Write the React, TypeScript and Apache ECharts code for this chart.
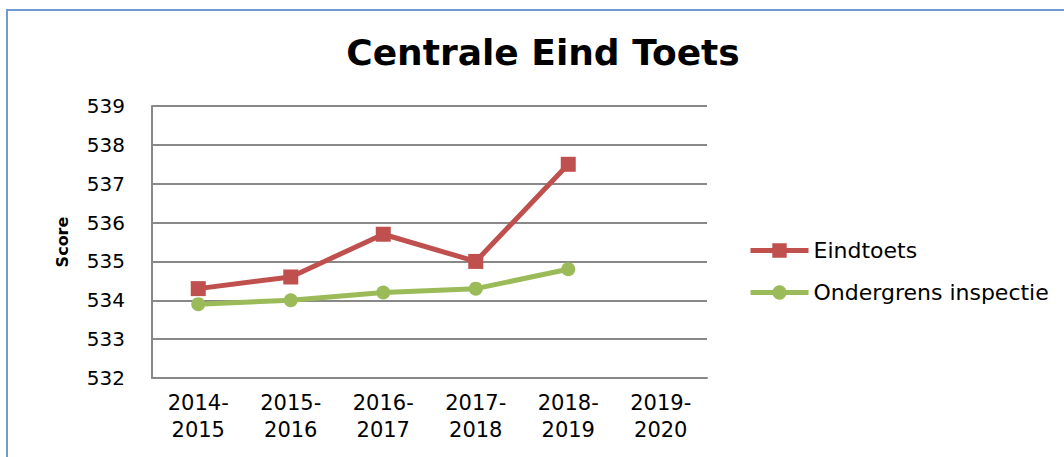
import React, { useEffect, useRef } from "react";
import * as echarts from "echarts";

const categories = ["2014-\n2015", "2015-\n2016", "2016-\n2017", "2017-\n2018", "2018-\n2019", "2019-\n2020"];
const eindtoets = [534.3, 534.6, 535.7, 535.0, 537.5, null];
const ondergrens = [533.9, 534.0, 534.2, 534.3, 534.8, null];
const yMin = 532;
const yMax = 539;

export default function App() {
  const ref = useRef<HTMLDivElement>(null);
  useEffect(() => {
    if (!ref.current) return;
    const chart = echarts.init(ref.current, null, { renderer: "svg" });
    const font = "'DejaVu Sans', sans-serif";
    chart.setOption({
      animation: false,
      backgroundColor: "#ffffff",
      textStyle: { fontFamily: font },
      title: {
        text: "Centrale Eind Toets",
        left: 538,
        top: 29,
        textAlign: "center",
        textStyle: { fontFamily: font, fontSize: 36, fontWeight: "bold", color: "#000" },
      },
      graphic: [
        {
          type: "rect",
          shape: { x: 7, y: 10, width: 1200, height: 600 },
          style: { fill: "none", stroke: "#6f9bd1", lineWidth: 2 },
          silent: true,
        },
      ],
      legend: {
        orient: "vertical",
        left: 743,
        top: 234,
        itemWidth: 58,
        itemHeight: 18,
        itemGap: 19,
        lineStyle: { width: 5 },
        textStyle: { fontFamily: font, fontSize: 22, lineHeight: 23, color: "#000" },
        data: ["Eindtoets", "Ondergrens inspectie"],
      },
      grid: { left: 152, top: 106, width: 555, height: 272 },
      xAxis: {
        type: "category",
        data: categories,
        boundaryGap: true,
        axisLine: { lineStyle: { color: "#888", width: 2 } },
        axisTick: { show: false },
        axisLabel: { fontFamily: font, fontSize: 21, color: "#000", margin: 11, lineHeight: 27 },
      },
      yAxis: {
        type: "value",
        min: yMin,
        max: yMax,
        interval: 1,
        name: "Score",
        nameLocation: "middle",
        nameGap: 82,
        nameRotate: 90,
        nameTextStyle: { fontFamily: font, fontSize: 16, fontWeight: "bold", color: "#000" },
        axisLine: { show: true, lineStyle: { color: "#888", width: 2 } },
        axisTick: { show: false },
        splitLine: { lineStyle: { color: "#888", width: 2 } },
        axisLabel: { fontFamily: font, fontSize: 20, color: "#000", margin: 27 },
      },
      series: [
        {
          name: "Eindtoets",
          type: "line",
          data: eindtoets,
          color: "#c0504d",
          lineStyle: { width: 5, color: "#c0504d" },
          symbol: "rect",
          symbolSize: 15,
          itemStyle: { color: "#c0504d" },
        },
        {
          name: "Ondergrens inspectie",
          type: "line",
          data: ondergrens,
          color: "#9bbb59",
          lineStyle: { width: 5, color: "#9bbb59" },
          symbol: "circle",
          symbolSize: 14,
          itemStyle: { color: "#9bbb59" },
        },
      ],
    });
    return () => chart.dispose();
  }, []);
  return <div ref={ref} style={{ position: "fixed", left: 0, top: 0, width: 1064, height: 457 }} />;
}
